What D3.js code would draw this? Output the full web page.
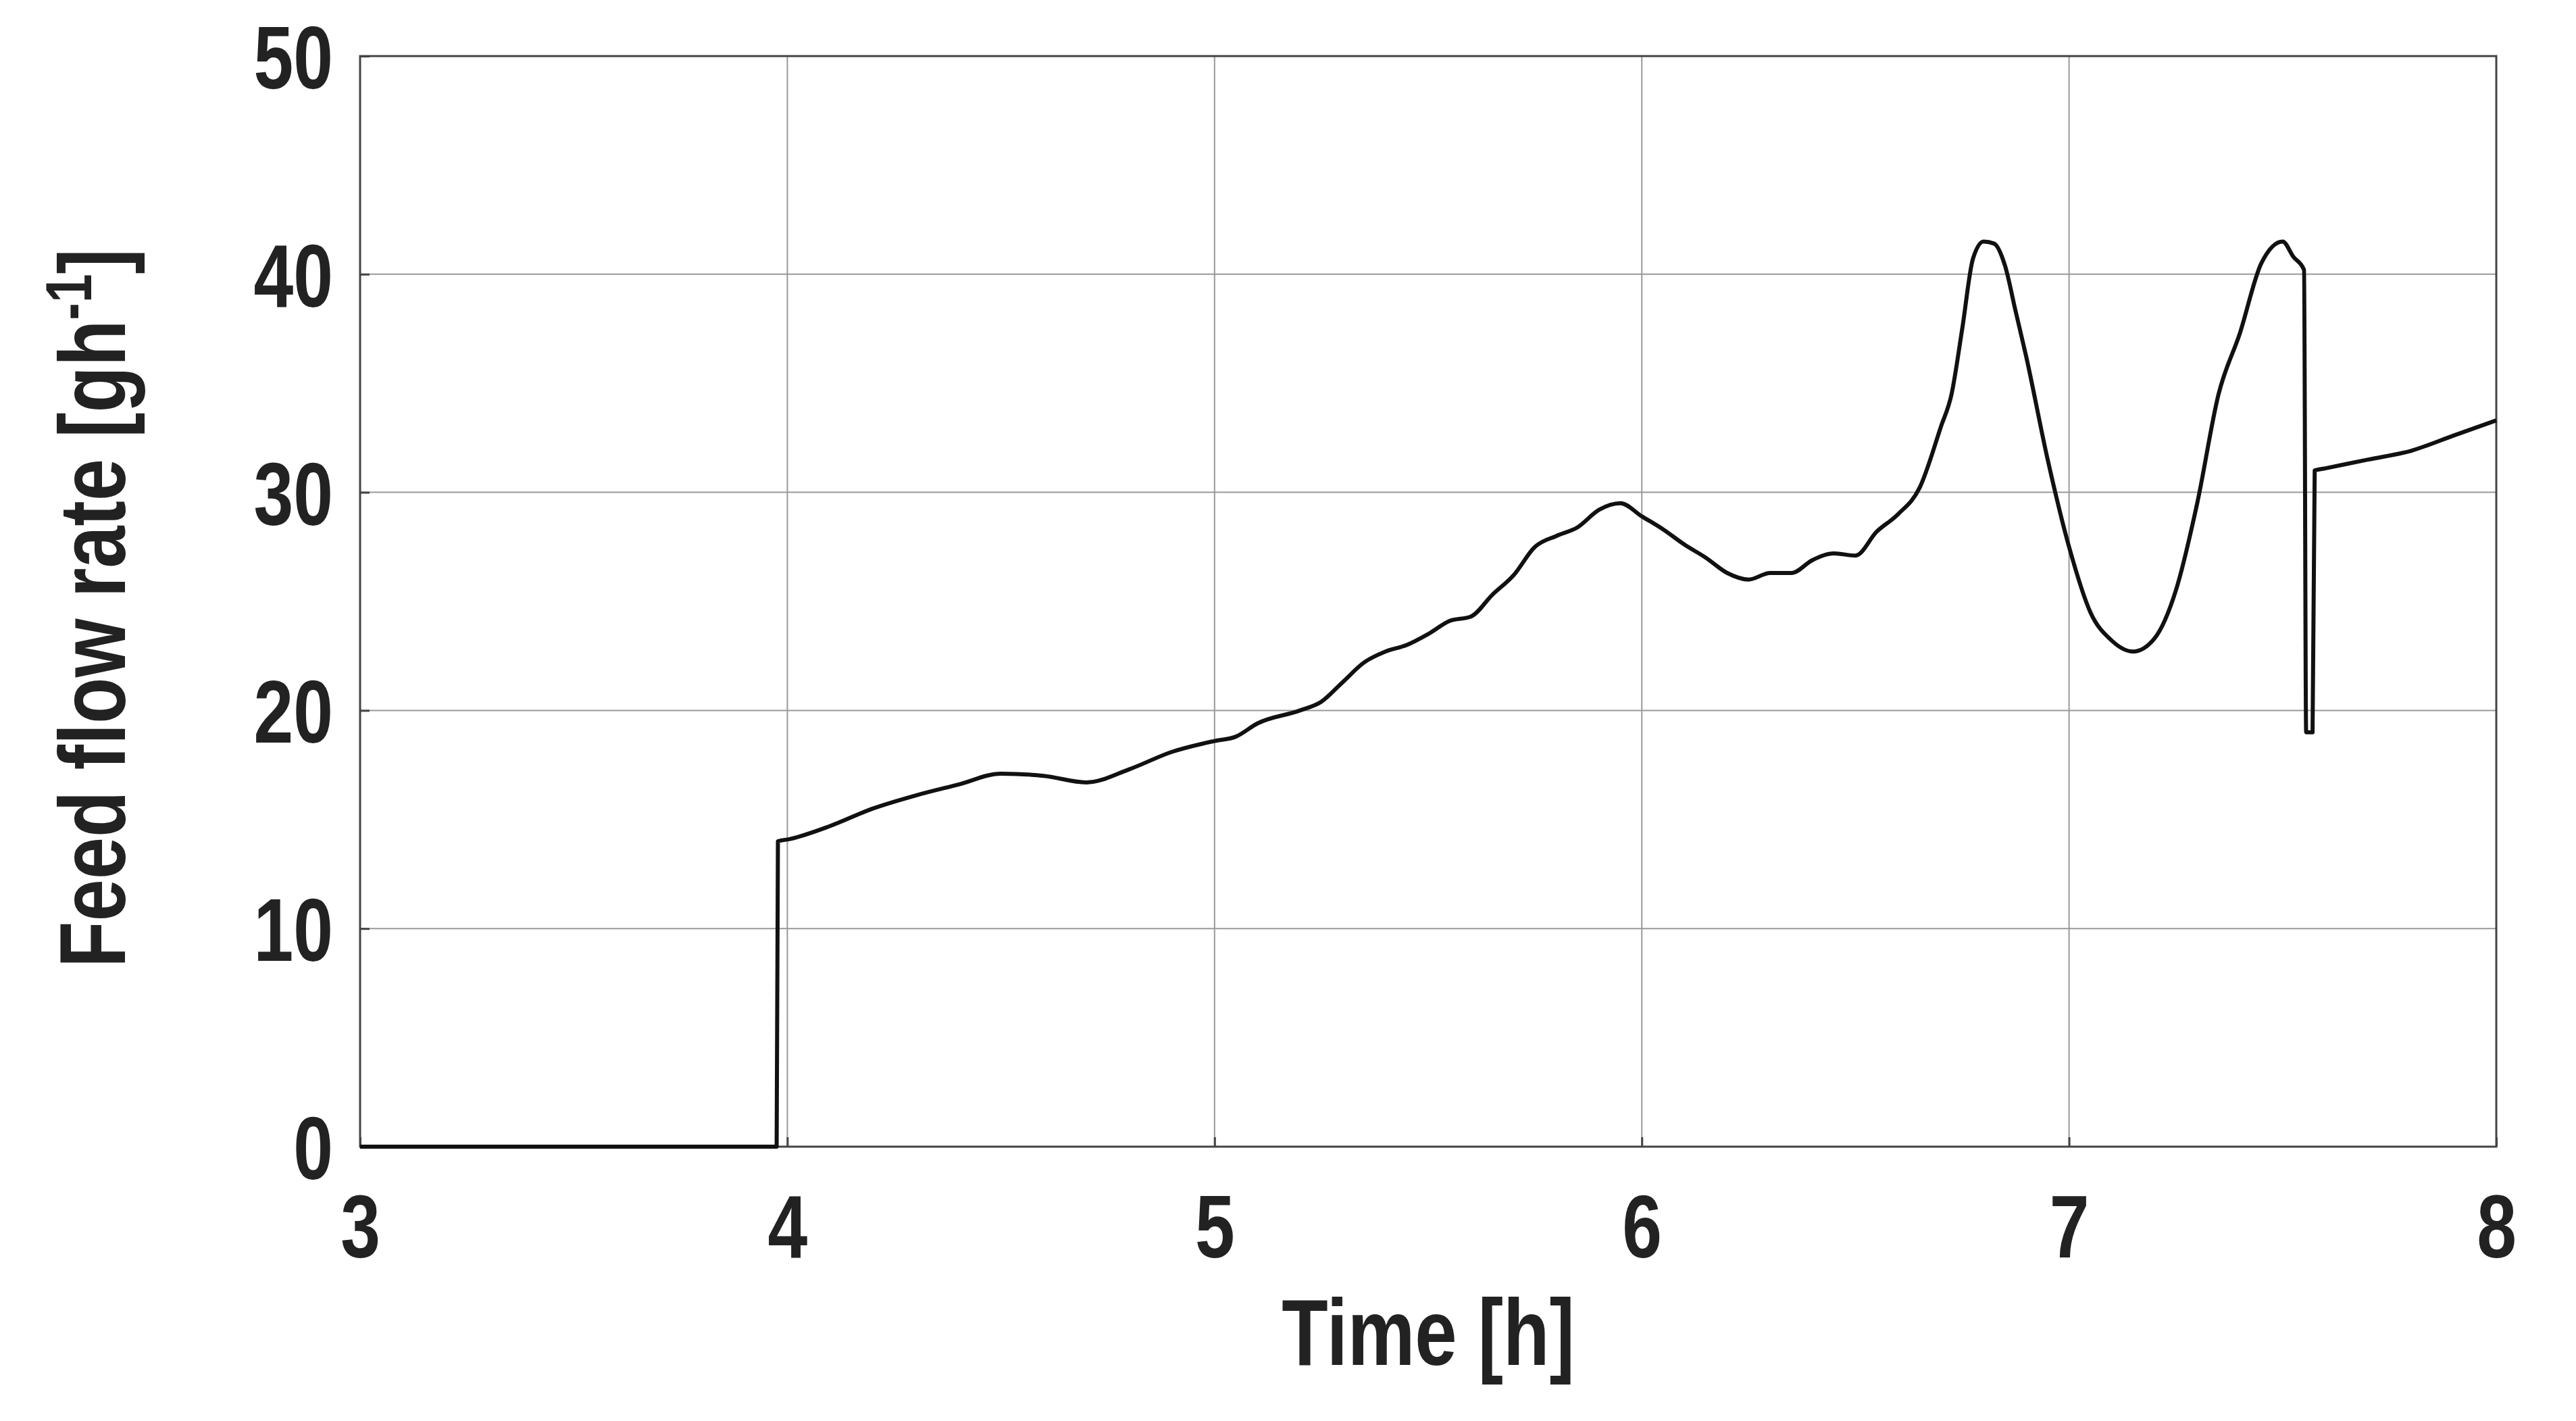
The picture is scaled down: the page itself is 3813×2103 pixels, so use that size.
<!DOCTYPE html>
<html><head><meta charset="utf-8">
<script src="https://cdn.jsdelivr.net/npm/d3@7"></script>
<style>body{margin:0;background:#fff}svg{display:block}text{font-family:"Liberation Sans Narrow","Arial Narrow","Liberation Sans",sans-serif;font-weight:bold;fill:#222}</style>
</head><body><svg id="c" width="3813" height="2103"></svg>
<script>
const timeH = [3.0,3.975,3.978,4.005,4.1,4.2,4.3,4.4,4.5,4.6,4.7,4.8,4.9,5.0,5.05,5.1,5.2,5.25,5.3,5.35,5.4,5.45,5.5,5.55,5.6,5.65,5.7,5.75,5.8,5.85,5.9,5.95,6.0,6.05,6.1,6.15,6.2,6.25,6.3,6.35,6.4,6.45,6.5,6.55,6.6,6.65,6.7,6.725,6.75,6.775,6.8,6.825,6.85,6.875,6.9,6.95,7.0,7.05,7.1,7.15,7.2,7.25,7.3,7.35,7.4,7.45,7.5,7.525,7.55,7.555,7.57,7.575,7.6,7.7,7.8,7.9,8.0];
const feed = [0,0,14.0,14.1,14.7,15.5,16.1,16.6,17.1,17.0,16.7,17.3,18.1,18.6,18.8,19.4,20.0,20.4,21.3,22.2,22.7,23.0,23.5,24.1,24.3,25.3,26.2,27.5,28.0,28.4,29.2,29.5,28.9,28.3,27.6,27.0,26.3,26.0,26.3,26.3,26.9,27.2,27.1,28.2,29.0,30.2,33.0,34.5,37.5,40.7,41.5,41.4,40.4,38.3,36.2,31.5,27.5,24.5,23.2,22.7,23.3,25.5,29.5,34.5,37.3,40.5,41.5,40.8,40.2,19.0,19.0,31.0,31.1,31.5,31.9,32.6,33.3];
const xTicks = [3,4,5,6,7,8];
const yTicks = [0,10,20,30,40,50];

const L=533,R=3695,T=83,B=1697;
const svg=d3.select("#c");
const x=d3.scaleLinear().domain([3,8]).range([L,R]);
const y=d3.scaleLinear().domain([0,50]).range([B,T]);
const g=svg.append("g");
g.selectAll(".gx").data(xTicks).enter().append("line").attr("x1",d=>x(d)).attr("x2",d=>x(d)).attr("y1",T).attr("y2",B).attr("stroke","#999").attr("stroke-width",2);
g.selectAll(".gy").data(yTicks).enter().append("line").attr("y1",d=>y(d)).attr("y2",d=>y(d)).attr("x1",L).attr("x2",R).attr("stroke","#999").attr("stroke-width",2);
svg.append("rect").attr("x",L).attr("y",T).attr("width",R-L).attr("height",B-T).attr("fill","none").attr("stroke","#444").attr("stroke-width",3);
svg.append("g").attr("transform",`translate(0,${B})`).call(d3.axisBottom(x).tickValues(xTicks).tickSize(-14).tickPadding(70).tickFormat(d3.format("d")))
 .call(a=>{a.select(".domain").remove();a.selectAll("line").attr("stroke","#444").attr("stroke-width",3);a.selectAll("text").attr("font-size",132).attr("fill","#222").attr("transform","scale(0.8,1)");});
svg.append("g").attr("transform",`translate(${L},0)`).call(d3.axisLeft(y).tickValues(yTicks).tickSize(-14).tickPadding(50).tickFormat(d3.format("d")))
 .call(a=>{a.select(".domain").remove();a.selectAll("line").attr("stroke","#444").attr("stroke-width",3);a.selectAll("text").attr("font-size",132).attr("fill","#222").attr("dy","0.36em").attr("transform","scale(0.8,1)");});
const line=d3.line().x((d,i)=>x(timeH[i])).y(d=>y(d)).curve(d3.curveMonotoneX);
svg.append("path").datum(feed).attr("d",line).attr("fill","none").attr("stroke","#111").attr("stroke-width",6).attr("stroke-linejoin","round");
svg.append("text").attr("transform",`translate(${(L+R)/2},2020) scale(0.8,1)`).attr("text-anchor","middle").attr("font-size",140).text("Time [h]");
const yl=svg.append("text").attr("transform","translate(185,900) rotate(-90) scale(0.8,1)").attr("text-anchor","middle").attr("font-size",140);
yl.append("tspan").text("Feed flow rate [gh");
yl.append("tspan").attr("dy",-50).attr("font-size",96).text("-1");
yl.append("tspan").attr("dy",50).text("]");
</script></body></html>
